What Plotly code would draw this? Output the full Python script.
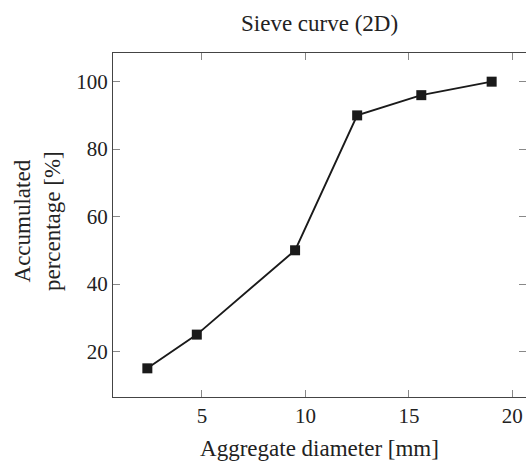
import plotly.graph_objects as go

diameter_mm = [2.36, 4.75, 9.5, 12.5, 15.6, 19.0]
accumulated_pct = [15, 25, 50, 90, 96, 100]
x_ticks = [5, 10, 15, 20]
y_ticks = [20, 40, 60, 80, 100]

FONT = "Liberation Serif"
W, H = 526, 462
ML, MR, MT, MB = 113, 0, 53, 65

fig = go.Figure()
fig.add_trace(go.Scatter(
    x=diameter_mm, y=accumulated_pct, mode="lines+markers",
    line=dict(color="#1a1a1a", width=1.9),
    marker=dict(symbol="square", size=10, color="#1a1a1a"),
    showlegend=False, cliponaxis=False,
))

axis_common = dict(
    showline=True, linecolor="#444", linewidth=1, mirror="allticks",
    ticks="inside", ticklen=7, tickcolor="#888", tickwidth=1,
    showgrid=False, zeroline=False,
    tickfont=dict(family=FONT, size=21, color="#222"),
)

fig.update_layout(
    width=W, height=H,
    margin=dict(l=ML, r=MR, t=MT, b=MB, pad=0),
    paper_bgcolor="white", plot_bgcolor="white",
    xaxis=dict(range=[0.70, 20.66], tickvals=x_ticks,
               title=dict(text="Aggregate diameter [mm]", standoff=12,
                          font=dict(family=FONT, size=23, color="#222")),
               **axis_common),
    yaxis=dict(range=[6.5, 108.5], tickvals=y_ticks, **axis_common),
    annotations=[
        dict(text="Sieve curve (2D)", xref="paper", yref="paper",
             x=0.5, y=1 + (MT - 23) / (H - MT - MB), xanchor="center", yanchor="middle",
             showarrow=False, font=dict(family=FONT, size=23, color="#222")),
        dict(text="Accumulated<br>percentage [%]", xref="paper", yref="paper",
             x=(37.5 - ML) / (W - ML - MR), y=0.51, xanchor="center", yanchor="middle",
             textangle=-90, showarrow=False,
             font=dict(family=FONT, size=23, color="#222")),
    ],
)

fig.write_html("out.html")
